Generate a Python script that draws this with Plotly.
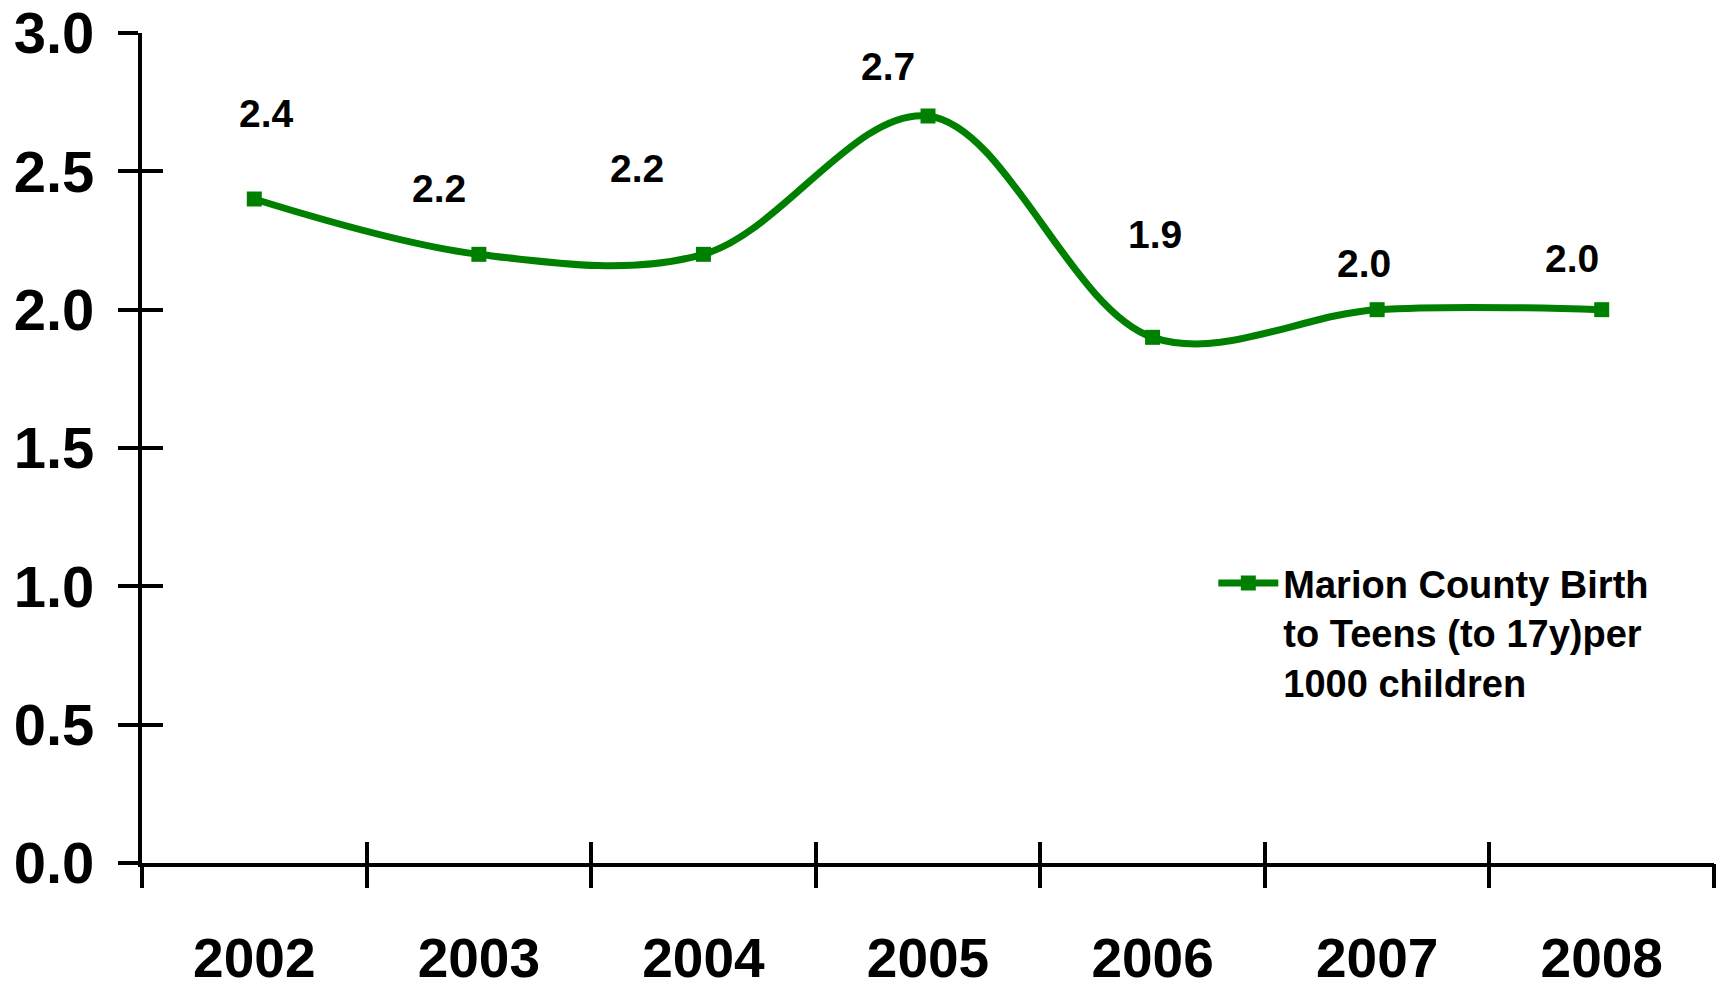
import plotly.graph_objects as go

years = ["2002", "2003", "2004", "2005", "2006", "2007", "2008"]
values = [2.4, 2.2, 2.2, 2.7, 1.9, 2.0, 2.0]
series_name = "Marion County Birth<br>to Teens (to 17y)per<br>1000 children"
y_ticks = [0.0, 0.5, 1.0, 1.5, 2.0, 2.5, 3.0]

# label placement offsets (pixels) as in the original chart
label_dx = [12, -40, -66, -40, 2, -13, -30]
label_dy = [86, 66, 86, 50, 103, 46, 51]

GREEN = "#008000"
FONT = "Liberation Sans, Arial, sans-serif"

xpos = list(range(len(years)))
bounds = [i - 0.5 for i in range(len(years) + 1)]
xrange_ = [-0.5, len(years) - 0.5]

fig = go.Figure()
fig.add_trace(go.Scatter(
    x=xpos, y=values, name=series_name, mode="lines+markers",
    line=dict(color=GREEN, width=7, shape="spline", smoothing=1.0),
    marker=dict(symbol="square", size=15, color=GREEN),
))

# empty helper traces so the overlaid tick-only axes are drawn
for xa, ya in (("x2", "y"), ("x3", "y"), ("x", "y2")):
    fig.add_trace(go.Scatter(x=[None], y=[None], xaxis=xa, yaxis=ya,
                             showlegend=False, hoverinfo="skip", mode="lines"))

for i, v in enumerate(values):
    fig.add_annotation(
        x=xpos[i], y=v, text=f"{v:.1f}", showarrow=False,
        xshift=label_dx[i], yshift=label_dy[i],
        font=dict(family=FONT, size=39, color="black", weight="bold"),
    )

y_font = dict(family=FONT, size=58, color="black", weight="bold")
x_font = dict(family=FONT, size=55, color="black", weight="bold")

fig.update_layout(
    width=1727, height=990,
    margin=dict(l=142, r=13, t=33, b=127, autoexpand=False),
    paper_bgcolor="white", plot_bgcolor="white",
    showlegend=True,
    legend=dict(
        x=0.6815, y=0.375, xanchor="left", yanchor="top", valign="top",
        font=dict(family=FONT, size=38, color="black", weight="bold"),
        bgcolor="rgba(0,0,0,0)", itemwidth=60,
    ),
    xaxis=dict(
        range=xrange_, tickmode="array", tickvals=xpos, ticktext=years,
        ticks="", showline=True, linecolor="black", linewidth=4,
        showgrid=False, zeroline=False, tickfont=x_font,
        ticklabelstandoff=44, automargin=False,
    ),
    xaxis2=dict(
        overlaying="x", anchor="y", side="bottom", range=xrange_,
        tickmode="array", tickvals=bounds, ticks="outside", ticklen=24,
        tickwidth=4, tickcolor="black", showticklabels=False,
        showgrid=False, zeroline=False, showline=False, automargin=False,
    ),
    xaxis3=dict(
        overlaying="x", anchor="y", side="bottom", range=xrange_,
        tickmode="array", tickvals=bounds, ticks="inside", ticklen=21,
        tickwidth=4, tickcolor="black", showticklabels=False,
        showgrid=False, zeroline=False, showline=False, automargin=False,
    ),
    yaxis=dict(
        range=[0, 3], tickmode="array", tickvals=y_ticks,
        ticktext=[f"{t:.1f}" for t in y_ticks],
        ticks="outside", ticklen=20, tickwidth=4, tickcolor="black",
        showline=True, linecolor="black", linewidth=4,
        showgrid=False, zeroline=False, tickfont=y_font,
        ticklabelstandoff=12, automargin=False,
    ),
    yaxis2=dict(
        overlaying="y", anchor="x", side="left", range=[0, 3],
        tickmode="array", tickvals=y_ticks, ticks="inside", ticklen=21,
        tickwidth=4, tickcolor="black", showticklabels=False,
        showgrid=False, zeroline=False, showline=False, automargin=False,
    ),
)

fig.write_html("out.html", config={"displayModeBar": False})

# remove the browser's default page margin so the figure sits at the corner
with open("out.html", encoding="utf-8") as f:
    html = f.read()
html = html.replace("<body>", '<body style="margin:0;overflow:hidden">', 1)
with open("out.html", "w", encoding="utf-8") as f:
    f.write(html)
